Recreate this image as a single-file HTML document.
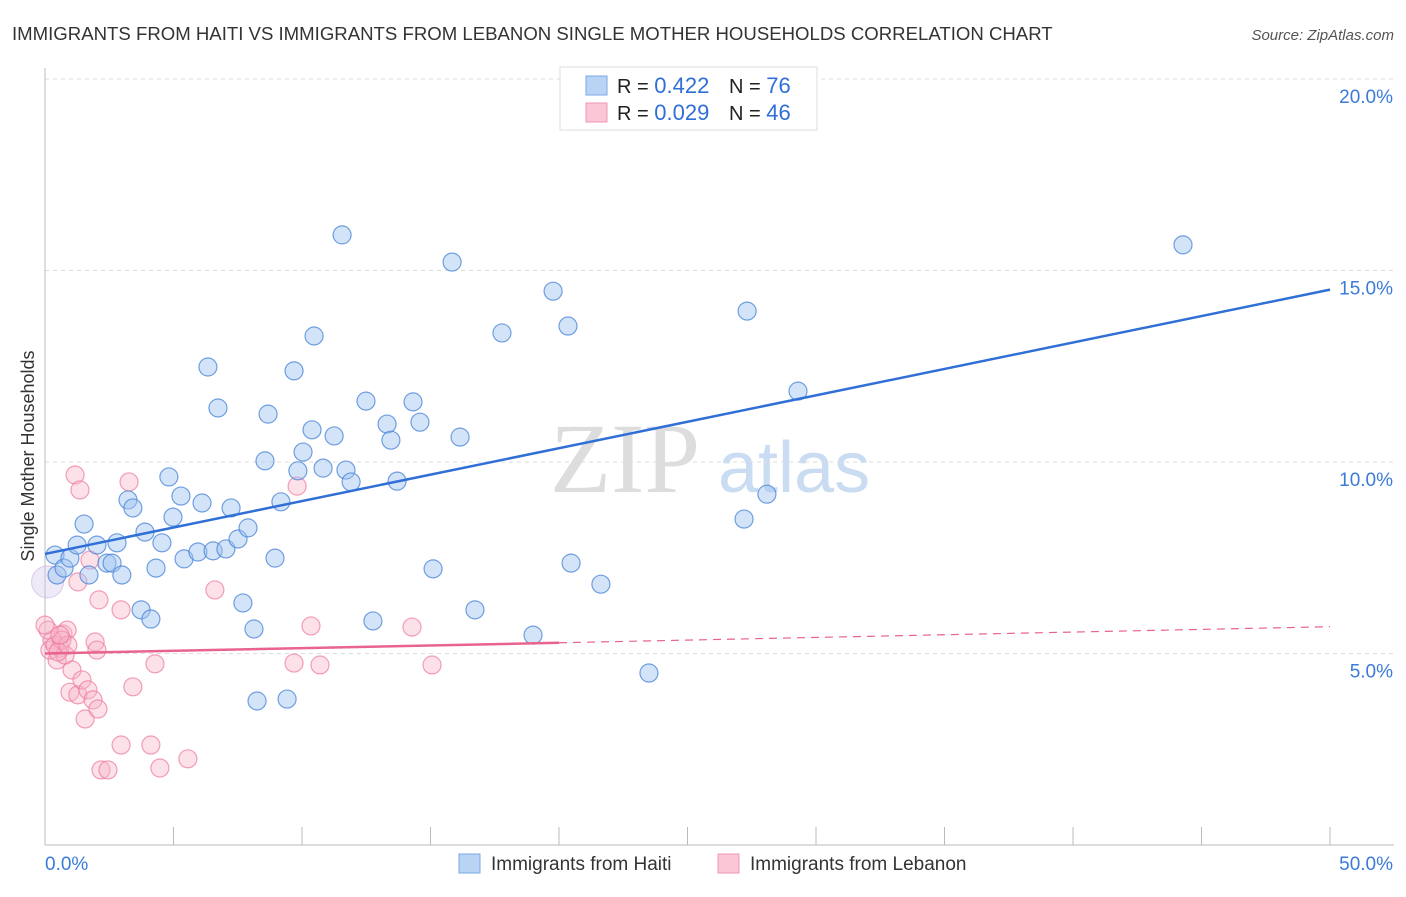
<!DOCTYPE html>
<html><head><meta charset="utf-8"><style>
body{margin:0;background:#fff;font-family:"Liberation Sans",sans-serif;}
#wrap{position:relative;width:1406px;height:892px;}
</style></head><body>
<div id="wrap">
<svg id="svg" width="1406" height="892" xmlns="http://www.w3.org/2000/svg">
<text x="12" y="40" font-size="18.6" fill="#333">IMMIGRANTS FROM HAITI VS IMMIGRANTS FROM LEBANON SINGLE MOTHER HOUSEHOLDS CORRELATION CHART</text>
<text x="1394" y="40" font-size="15" fill="#555" font-style="italic" text-anchor="end">Source: ZipAtlas.com</text>
<text transform="translate(34,456) rotate(-90)" font-size="18" fill="#333" text-anchor="middle">Single Mother Households</text>
<text x="550" y="492" font-size="100" fill="#ddd" font-family="Liberation Serif,serif">ZIP</text>
<text x="718" y="492" font-size="72" fill="#c9dcf2">atlas</text>
<g id="grid"></g><g id="marks"></g><g id="lines"></g>
<g>
<rect x="560" y="67" width="257" height="63" fill="#fff" stroke="#ddd"/>
<rect x="586" y="76" width="21" height="19" fill="#b9d3f5" stroke="#7aa8e6"/>
<rect x="586" y="103" width="21" height="19" fill="#fbc6d6" stroke="#f097b3"/>
<text x="617" y="93" font-size="20" fill="#222">R = <tspan fill="#2f6fd6" font-size="22">0.422</tspan></text>
<text x="729" y="93" font-size="20" fill="#222">N = <tspan fill="#2f6fd6" font-size="22">76</tspan></text>
<text x="617" y="120" font-size="20" fill="#222">R = <tspan fill="#2f6fd6" font-size="22">0.029</tspan></text>
<text x="729" y="120" font-size="20" fill="#222">N = <tspan fill="#2f6fd6" font-size="22">46</tspan></text>
</g>
<g>
<rect x="459" y="854" width="21" height="19" fill="#b9d3f5" stroke="#7aa8e6"/>
<text x="491" y="870" font-size="19" fill="#333">Immigrants from Haiti</text>
<rect x="718" y="854" width="21" height="19" fill="#fbc6d6" stroke="#f097b3"/>
<text x="750" y="870" font-size="19" fill="#333">Immigrants from Lebanon</text>
</g>
</svg></div>
<script>
const yTicks=[5,10,15,20];
const yTickLabels=["5.0%","10.0%","15.0%","20.0%"];
const xTickLabels=["0.0%","50.0%"];
const haitiX=[0.39,0.47,0.74,0.97,1.25,1.52,1.71,2.02,2.41,2.61,2.80,2.99,3.23,3.42,3.89,3.74,4.12,4.32,4.55,4.82,4.98,5.29,5.41,5.95,6.11,6.34,6.54,6.73,7.04,7.24,7.51,7.70,7.90,8.13,8.25,8.56,8.68,8.95,9.18,9.42,9.69,9.84,10.04,10.39,10.47,10.82,11.25,11.56,11.71,11.91,12.49,12.76,13.31,13.46,13.70,14.32,14.59,15.10,15.84,16.15,16.73,17.78,18.99,19.77,20.35,20.47,21.63,23.50,27.20,27.32,28.09,29.30,44.28];
const haitiY=[7.57,7.05,7.23,7.49,7.83,8.38,7.05,7.83,7.36,7.36,7.89,7.05,9.01,8.80,8.17,6.14,5.90,7.23,7.89,9.61,8.56,9.11,7.47,7.65,8.93,12.48,7.68,11.41,7.73,8.80,7.99,6.32,8.28,5.64,3.76,10.03,11.25,7.49,8.96,3.81,12.38,9.77,10.26,10.84,13.29,9.84,10.68,15.93,9.79,9.48,11.59,5.85,10.99,10.57,9.50,11.57,11.04,7.21,15.22,10.65,6.14,13.37,5.48,14.46,13.55,7.36,6.81,4.49,8.51,13.94,9.16,11.85,15.67];
const lebX=[0.27,0.47,0.58,0.70,0.86,0.97,1.05,1.17,1.28,1.36,1.44,1.56,1.67,1.75,1.87,1.95,2.06,2.10,2.18,2.96,2.96,3.27,3.42,4.12,4.28,4.47,5.56,6.61,9.81,10.35,9.69,10.70,14.28,15.06,2.45,1.28,0.19,0.39,0.78,0.66,0.12,0.51,0.89,0.0,0.58,2.02];
const lebY=[5.35,4.83,5.14,5.51,5.61,3.99,4.57,9.66,3.92,9.27,4.31,3.29,4.05,7.44,3.79,5.30,3.55,6.40,1.96,6.14,2.61,9.48,4.13,2.61,4.73,2.01,2.25,6.66,9.37,5.72,4.75,4.70,5.69,4.70,1.96,6.87,5.09,5.22,4.96,5.35,5.61,5.04,5.22,5.74,5.48,5.09];
const haitiTrend=[7.6,14.5];
const lebTrend=[5.0,5.7];
const X0=45,X1=1330,Y0=845,YS=766/20;
const sx=v=>X0+(X1-X0)*v/50, sy=v=>Y0-v*YS;
const NS="http://www.w3.org/2000/svg";
function mk(tag,attrs,parent){const e=document.createElementNS(NS,tag);for(const k in attrs)e.setAttribute(k,attrs[k]);parent.appendChild(e);return e;}
const grid=document.getElementById('grid'),marks=document.getElementById('marks'),lines=document.getElementById('lines');
yTicks.forEach((t,i)=>{
 const l=mk('line',{x1:X0,x2:1394,y1:sy(t),y2:sy(t),stroke:'#ddd','stroke-dasharray':'4,4'},grid);
 
 
 const tx=mk('text',{x:1393,y:sy(t)+24,'font-size':19,fill:'#3b7bd8','text-anchor':'end'},grid);
 tx.textContent=yTickLabels[i];
 
 
});
const ax=mk('line',{x1:X0,x2:X0,y1:68,y2:Y0,stroke:'#bbb'},grid);


const bx=mk('line',{x1:X0,x2:1394,y1:Y0,y2:Y0,stroke:'#bbb'},grid);


for(let i=1;i<=10;i++){const t=mk('line',{x1:sx(i*5),x2:sx(i*5),y1:Y0-18,y2:Y0,stroke:'#bbb'},grid);
 
 }
[[0,'start',45],[50,'end',1393]].forEach((d,i)=>{const t=mk('text',{x:d[2],y:870,'font-size':19,fill:'#3b7bd8','text-anchor':d[1]},grid);t.textContent=xTickLabels[i];
 
 });
const big=mk('circle',{cx:sx(0.1),cy:sy(6.87),r:16,fill:'rgba(210,195,235,0.35)',stroke:'rgba(200,170,220,0.6)'},marks);


lebX.forEach((x,i)=>{const c=mk('circle',{cx:sx(x),cy:sy(lebY[i]),r:9,fill:'rgba(248,180,200,0.4)',stroke:'rgba(236,120,155,0.7)','stroke-width':1.2},marks);
 
 });
haitiX.forEach((x,i)=>{const c=mk('circle',{cx:sx(x),cy:sy(haitiY[i]),r:9,fill:'rgba(160,196,240,0.45)',stroke:'rgba(70,130,215,0.75)','stroke-width':1.2},marks);
 
 });
const hl=mk('line',{x1:sx(0),y1:sy(haitiTrend[0]),x2:sx(50),y2:sy(haitiTrend[1]),stroke:'#2f6fd6','stroke-width':2.5},lines);


const lm=lebTrend[0]+(lebTrend[1]-lebTrend[0])*20/50;
const ll=mk('line',{x1:sx(0),y1:sy(lebTrend[0]),x2:sx(20),y2:sy(lm),stroke:'#e8648f','stroke-width':2.5},lines);


const ld=mk('line',{x1:sx(20),y1:sy(lm),x2:sx(50),y2:sy(lebTrend[1]),stroke:'#e8648f','stroke-width':1.2,'stroke-dasharray':'8,6'},lines);


</script>
</body></html>
